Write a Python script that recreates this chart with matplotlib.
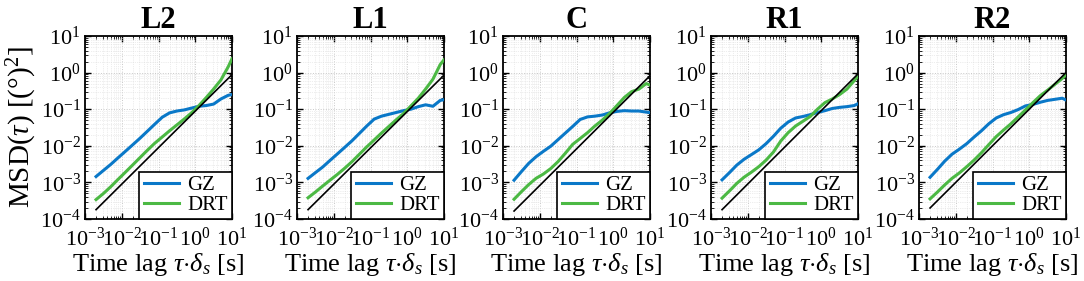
import numpy as np
import matplotlib
matplotlib.use('Agg')
import matplotlib.pyplot as plt
from matplotlib.ticker import LogLocator, LogFormatterMathtext, NullFormatter

plt.rcParams['font.family'] = ['Liberation Serif', 'DejaVu Serif']
plt.rcParams['mathtext.fontset'] = 'custom'
plt.rcParams['mathtext.rm'] = 'Liberation Serif'
plt.rcParams['mathtext.it'] = 'Liberation Serif:italic'
plt.rcParams['mathtext.bf'] = 'Liberation Serif:bold'

## data, MSD values stored as log10
panels = ['L2', 'L1', 'C', 'R1', 'R2']
tau = [0.002, 0.0032, 0.005, 0.0079, 0.0126, 0.02, 0.0316, 0.05, 0.079, 0.126,
       0.2, 0.316, 0.5, 0.79, 1.26, 2.0, 3.16, 5.0, 7.9, 10.0]

gz_L2 = [-2.84, -2.67, -2.51, -2.33, -2.15, -1.97, -1.79, -1.60, -1.41, -1.22,
         -1.10, -1.05, -1.02, -0.97, -0.92, -0.90, -0.86, -0.72, -0.62, -0.60]
drt_L2 = [-3.47, -3.30, -3.12, -2.92, -2.72, -2.52, -2.32, -2.12, -1.93, -1.76,
          -1.59, -1.43, -1.27, -1.10, -0.90, -0.68, -0.45, -0.20, 0.16, 0.38]

gz_L1 = [-2.89, -2.73, -2.58, -2.40, -2.22, -2.04, -1.86, -1.66, -1.46, -1.27,
         -1.19, -1.14, -1.09, -1.04, -1.00, -0.93, -0.88, -0.92, -0.76, -0.74]
drt_L1 = [-3.42, -3.26, -3.10, -2.94, -2.78, -2.61, -2.43, -2.23, -2.03, -1.84,
          -1.65, -1.47, -1.29, -1.12, -0.91, -0.70, -0.45, -0.18, 0.22, 0.35]

gz_C = [-2.94, -2.70, -2.48, -2.30, -2.15, -2.01, -1.83, -1.65, -1.47, -1.28,
        -1.21, -1.19, -1.16, -1.10, -1.06, -1.04, -1.05, -1.05, -1.08, -1.09]
drt_C = [-3.46, -3.25, -3.06, -2.89, -2.77, -2.62, -2.43, -2.20, -1.96, -1.80,
         -1.64, -1.46, -1.30, -1.12, -0.90, -0.68, -0.52, -0.45, -0.30, -0.34]

gz_R1 = [-2.93, -2.73, -2.53, -2.37, -2.24, -2.11, -1.94, -1.74, -1.52, -1.35,
         -1.24, -1.20, -1.15, -1.09, -1.04, -0.98, -0.95, -0.93, -0.90, -0.85]
drt_R1 = [-3.43, -3.23, -3.03, -2.86, -2.72, -2.57, -2.39, -2.17, -1.87, -1.64,
          -1.46, -1.33, -1.20, -1.00, -0.82, -0.72, -0.60, -0.45, -0.22, -0.10]

gz_R2 = [-2.86, -2.64, -2.42, -2.23, -2.09, -1.94, -1.76, -1.59, -1.40, -1.24,
         -1.15, -1.09, -1.01, -0.91, -0.87, -0.81, -0.76, -0.73, -0.70, -0.75]
drt_R2 = [-3.45, -3.26, -3.07, -2.89, -2.74, -2.57, -2.39, -2.19, -1.97, -1.75,
          -1.57, -1.40, -1.21, -1.02, -0.82, -0.63, -0.48, -0.32, -0.16, -0.06]

# slope-1 reference line: values at the first and last lag
ref_tau = [0.002, 10.0]
ref_L2 = [1.8e-4, 0.88]
ref_L1 = [1.8e-4, 0.85]
ref_C = [1.65e-4, 0.82]
ref_R1 = [1.8e-4, 0.92]
ref_R2 = [2.0e-4, 1.0]

gz_all = [gz_L2, gz_L1, gz_C, gz_R1, gz_R2]
drt_all = [drt_L2, drt_L1, drt_C, drt_R1, drt_R2]
ref_all = [ref_L2, ref_L1, ref_C, ref_R1, ref_R2]

GZ_COLOR = '#0a78c8'
DRT_COLOR = '#4cb944'

W, H = 1084, 281
fig = plt.figure(figsize=(W / 100, H / 100), dpi=100)
lefts = [85, 297, 503, 711, 919]
ax_w, ax_top, ax_bot = 147, 36, 219

for i, name in enumerate(panels):
    ax = fig.add_axes([lefts[i] / W, (H - ax_bot) / H, ax_w / W, (ax_bot - ax_top) / H])
    ax.plot(tau, 10 ** np.array(gz_all[i]), color=GZ_COLOR, lw=2.2, label='GZ', zorder=3)
    ax.plot(tau, 10 ** np.array(drt_all[i]), color=DRT_COLOR, lw=2.2, label='DRT', zorder=3)
    ax.plot(ref_tau, ref_all[i], color='black', lw=1.2, zorder=4)

    ax.set_xscale('log')
    ax.set_yscale('log')
    ax.set_xlim(1e-3, 10)
    ax.set_ylim(1e-4, 10)
    ax.xaxis.set_major_locator(LogLocator(base=10, numticks=10))
    ax.yaxis.set_major_locator(LogLocator(base=10, numticks=10))
    ax.xaxis.set_minor_locator(LogLocator(base=10, subs=np.arange(2, 10), numticks=20))
    ax.yaxis.set_minor_locator(LogLocator(base=10, subs=np.arange(2, 10), numticks=20))
    ax.xaxis.set_major_formatter(LogFormatterMathtext())
    ax.yaxis.set_major_formatter(LogFormatterMathtext())
    ax.xaxis.set_minor_formatter(NullFormatter())
    ax.yaxis.set_minor_formatter(NullFormatter())

    ax.grid(True, which='major', color='#c8c8c8', ls=':', lw=0.7)
    ax.grid(True, which='minor', color='#dcdcdc', ls=':', lw=0.5)
    ax.tick_params(which='both', direction='in', top=True, right=True, labelsize=16)
    ax.tick_params(axis='x', which='major', pad=6)
    ax.tick_params(axis='y', which='major', pad=3)
    ax.tick_params(which='major', length=4, width=1)
    ax.tick_params(which='minor', length=2, width=0.6)
    for sp in ax.spines.values():
        sp.set_linewidth(1.3)

    ax.set_title(name, fontsize=22, fontweight='bold', pad=6)
    ax.set_xlabel(r'Time lag $\tau$$\cdot$$\delta_s$ [s]', fontsize=19, labelpad=0)
    if i == 0:
        ax.set_ylabel(r'MSD($\tau$) [($\degree$)$^2$]', fontsize=21, labelpad=1)

    leg = ax.legend(loc='lower right', fontsize=15, frameon=True, fancybox=False,
                    borderaxespad=0, handlelength=1.7, handletextpad=0.4,
                    borderpad=0.2, labelspacing=0.0)
    leg.get_frame().set_edgecolor('black')
    leg.get_frame().set_linewidth(1.2)
    leg.get_frame().set_alpha(1)

fig.savefig('out.png', dpi=100)
